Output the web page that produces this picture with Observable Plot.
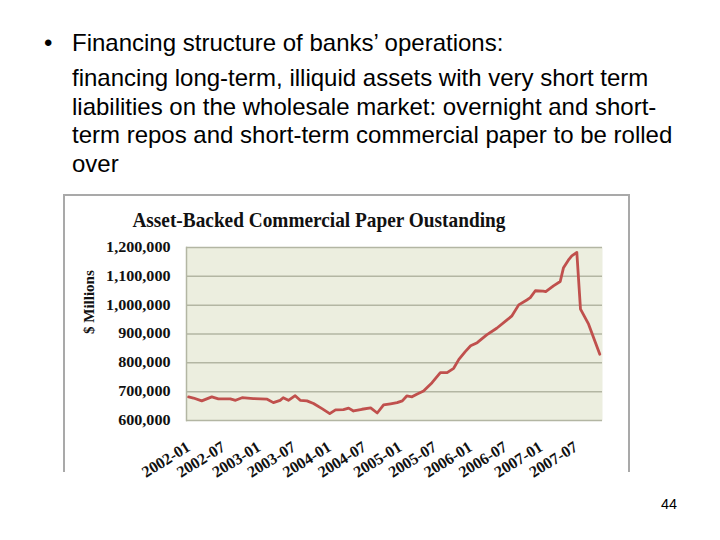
<!DOCTYPE html>
<html><head><meta charset="utf-8">
<script src="https://cdn.jsdelivr.net/npm/d3@7"></script>
<script src="https://cdn.jsdelivr.net/npm/@observablehq/plot@0.6"></script>
<style>
body{margin:0;width:720px;height:540px;position:relative;background:#fff;overflow:hidden}
.t{position:absolute;white-space:nowrap;font-family:"Liberation Sans",Arial,sans-serif;font-size:24px;line-height:24px;color:#000}
#box{position:absolute;left:63px;top:194px;width:563px;height:276px;border:2px solid #a9a9a9;border-bottom:none;background:#fff}
#title{position:absolute;left:0;width:637px;top:210px;text-align:center;font-family:"Liberation Serif",serif;font-weight:bold;font-size:21px;line-height:20px;color:#111;white-space:nowrap}
#title span{display:inline-block}
#chart{position:absolute;left:64px;top:237px}
#page{position:absolute;left:661px;top:497px;font-family:"Liberation Sans",Arial,sans-serif;font-size:14.4px;line-height:14px}
</style></head><body>
<div class="t" style="left:44px;top:31px">•</div>
<div class="t" style="left:72px;top:31px">Financing structure of banks’ operations:</div>
<div class="t" style="left:72px;top:66px">financing long-term, illiquid assets with very short term</div>
<div class="t" style="left:72px;top:94.5px">liabilities on the wholesale market: overnight and short-</div>
<div class="t" style="left:72px;top:123.3px">term repos and short-term commercial paper to be rolled</div>
<div class="t" style="left:72px;top:152px">over</div>
<div id="box"></div>
<div id="title"><span id="tspan">Asset-Backed Commercial Paper Oustanding</span></div>
<div id="chart"></div>
<div id="page">44</div>
<script>
const dates = ["2002-01-01","2002-01-26","2002-03-10","2002-05-01","2002-06-04","2002-08-05","2002-09-01","2002-10-05","2002-12-02",
"2003-02-12","2003-03-16","2003-04-20","2003-05-06","2003-06-02","2003-07-07","2003-08-02","2003-09-06","2003-10-10","2003-11-23",
"2004-01-02","2004-02-01","2004-03-13","2004-04-09","2004-05-04","2004-06-17","2004-08-01","2004-09-04","2004-10-07","2004-11-12","2004-12-16",
"2005-01-12","2005-02-04","2005-03-03","2005-03-28","2005-05-02","2005-06-15","2005-07-28","2005-09-01","2005-10-05","2005-11-01","2005-12-04",
"2006-01-01","2006-02-04","2006-03-25","2006-05-16","2006-07-07","2006-08-03","2006-09-07","2006-10-19","2006-11-06","2006-12-02",
"2007-01-12","2007-01-25","2007-03-06","2007-04-10","2007-04-27","2007-05-22","2007-06-09","2007-07-05","2007-07-24","2007-09-04","2007-09-30","2007-11-01"];
const values = [681600,678000,668000,682000,675000,675000,670000,679000,676000,
674000,662000,670000,679000,670000,686000,670000,668000,659000,641000,
624000,637000,638000,643000,633000,639000,644000,626000,654000,658000,662000,
668000,685000,682000,691000,702000,731000,766000,766000,781000,812000,839000,
859000,870000,897000,920000,948000,963000,1001000,1018000,1026000,1050000,
1049000,1047000,1067000,1082000,1130000,1156000,1171000,1183000,986000,934000,887000,830000];
const xTicks = ["2002-01-01","2002-07-01","2003-01-01","2003-07-01","2004-01-01","2004-07-01","2005-01-01","2005-07-01","2006-01-01","2006-07-01","2007-01-01","2007-07-01"];
const yTicks = [600000,700000,800000,900000,1000000,1100000,1200000];
const yLabel = "$ Millions";

const data = dates.map((d,i)=>({date:new Date(d), value:values[i]}));
const chart = Plot.plot({
  width:564, height:231,
  marginLeft:122, marginRight:26, marginTop:10, marginBottom:48,
  style:{fontFamily:'"Liberation Serif", serif', fontWeight:"bold", fontSize:"14px", color:"#111", background:"transparent", overflow:"visible"},
  x:{type:"utc", domain:[new Date("2001-12-21"), new Date("2007-11-15")], label:null},
  y:{domain:[600000,1200000], label:null},
  marks:[
    Plot.frame({fill:"#ECEEDF", stroke:"none"}),
    Plot.gridY(yTicks, {stroke:"#b3b6a3", strokeOpacity:1, strokeWidth:1.5}),
    Plot.frame({anchor:"left", stroke:"#b3b6a3", strokeWidth:1.5}),
    Plot.line(data, {x:"date", y:"value", stroke:"#C0504D", strokeWidth:2.8, strokeLinejoin:"round"}),
    Plot.axisY(yTicks, {tickFormat:d3.format(","), tickSize:0, tickPadding:16, label:null}),
    Plot.axisX(xTicks.map(d=>new Date(d)), {tickFormat:d3.utcFormat("%Y-%m"), tickSize:0, tickPadding:25, tickRotate:-32, fontSize:16, label:null}),
    Plot.text([yLabel], {text:d=>d, frameAnchor:"left", dx:-97, rotate:-90, fontSize:15, fontWeight:"bold"})
  ]
});
document.getElementById("chart").append(chart);
chart.querySelectorAll('g[aria-label="y-axis tick label"] text').forEach(t=>{
  const w = t.getComputedTextLength();
  t.setAttribute("textLength", w*1.15);
  t.setAttribute("lengthAdjust","spacingAndGlyphs");
});
const ts = document.getElementById("tspan");
const w = ts.getBoundingClientRect().width;
ts.style.transform = `scaleX(${373/w})`;
</script>
</body></html>
